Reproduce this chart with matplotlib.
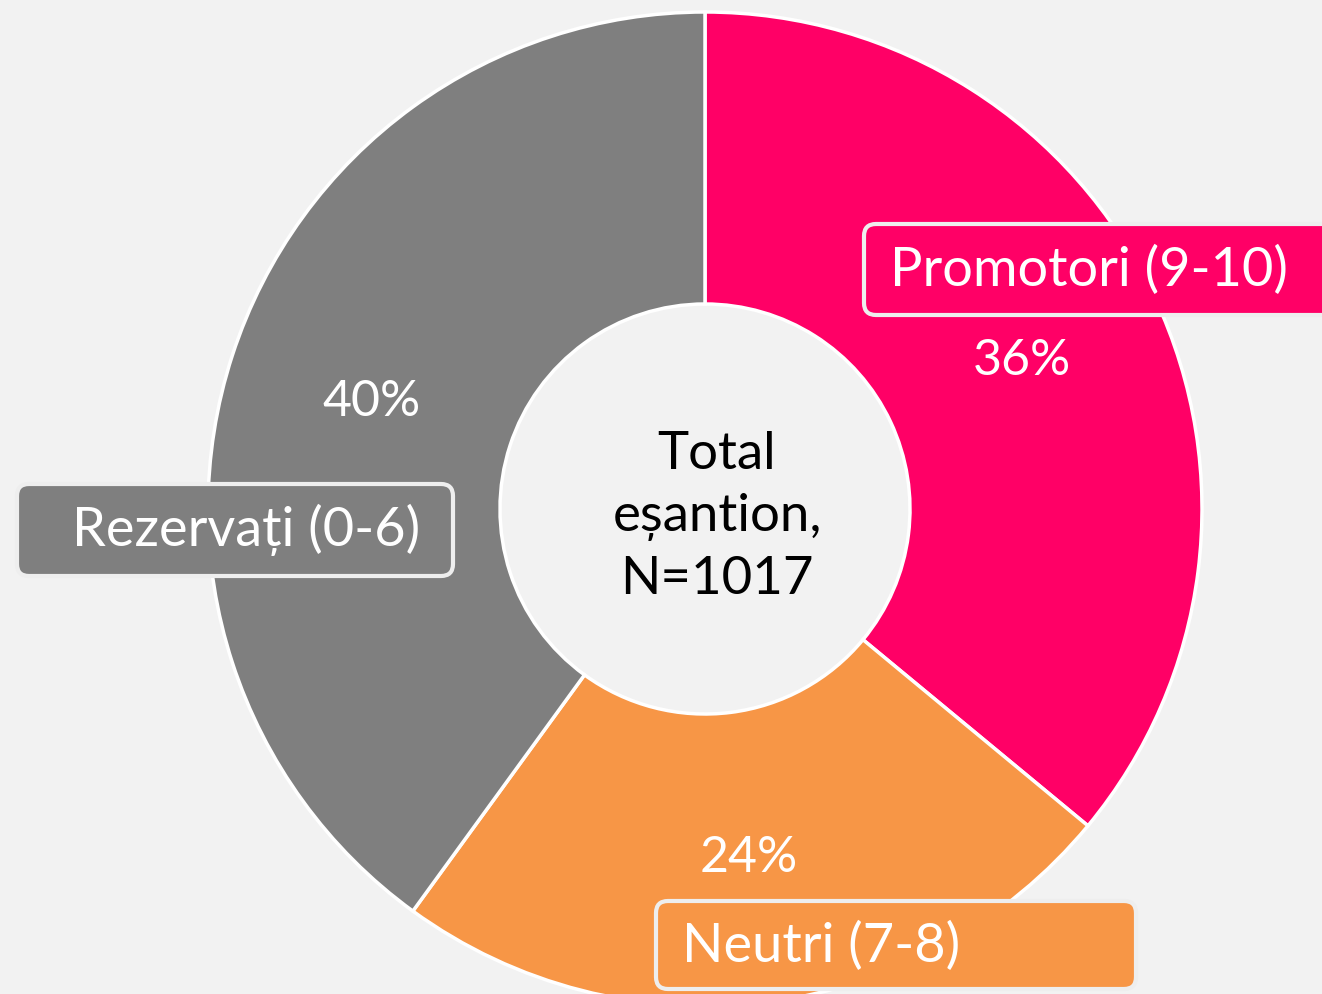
import matplotlib.pyplot as plt
from matplotlib.patches import FancyBboxPatch

categories = ['Promotori (9-10)', 'Neutri (7-8)', 'Rezervați (0-6)']
shares = [36, 24, 40]
colors = ['#ff0066', '#f79646', '#7f7f7f']
center_text = 'Total\neșantion,\nN=1017'

plt.rcParams['font.family'] = ['Lato', 'DejaVu Sans']
bg = '#f2f2f2'

fig = plt.figure(figsize=(13.22, 9.95), dpi=100, facecolor=bg)
ax = fig.add_axes([0, 0, 1, 1])
ax.set_facecolor(bg)

wedges, texts, autotexts = ax.pie(
    shares, colors=colors, startangle=90, counterclock=False,
    center=(705, 485), radius=497,
    autopct='%d%%', pctdistance=0.705,
    wedgeprops=dict(width=292, edgecolor='white', linewidth=2.5),
    textprops=dict(color='white', fontsize=36))

ax.set_xlim(0, 1322)
ax.set_ylim(0, 995)
ax.set_aspect('equal')
ax.axis('off')

ax.text(717, 478, center_text, ha='center', va='center', fontsize=38,
        color='black', linespacing=1.4)

# label boxes: (x0, y0, w, h), text position
boxes = [
    ((864, 679, 480, 91), (890, 725)),
    ((656, 5, 480, 88), (682, 49)),
    ((17, 418, 436, 92), (72, 465)),
]
for (x0, y0, w, h), (tx, ty), lab, col in zip([b[0] for b in boxes], [b[1] for b in boxes], categories, colors):
    ax.add_patch(FancyBboxPatch((x0, y0), w, h,
                                boxstyle='round,pad=0,rounding_size=12',
                                facecolor=col, edgecolor='#eeeeee', linewidth=3, zorder=3))
    ax.text(tx, ty, lab, ha='left', va='center', color='white', fontsize=39,
            zorder=4)

fig.savefig('out.png', dpi=100, facecolor=bg)
